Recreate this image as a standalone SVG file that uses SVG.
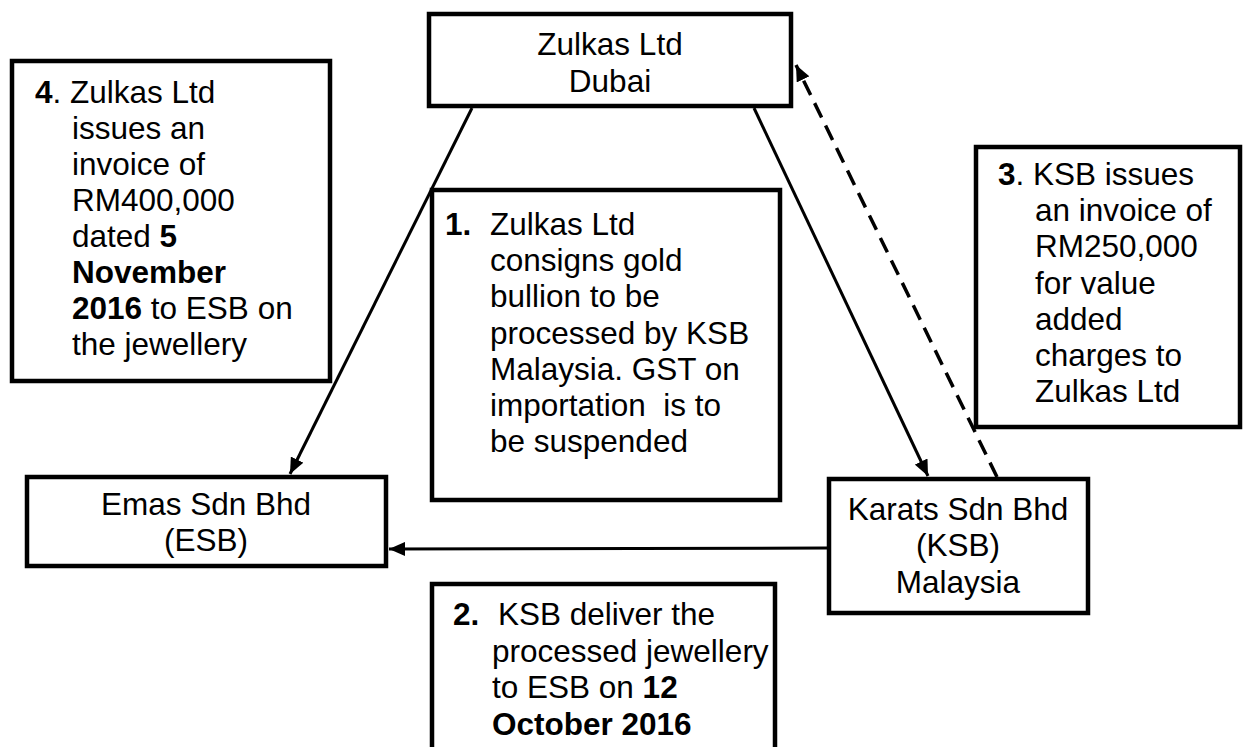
<svg xmlns="http://www.w3.org/2000/svg" width="1244" height="747" viewBox="0 0 1244 747">
<style>
.box{fill:#fff;stroke:#000;stroke-width:4.5}
.t{font-family:"Liberation Sans",Arial,sans-serif;font-size:31.5px;fill:#000}
.c{text-anchor:middle}
.b{font-weight:bold}
.ln{stroke:#000;stroke-width:3;fill:none}
.dash{stroke-width:3.5;stroke-dasharray:16 9}
</style>
<defs>
<marker id="ah" markerUnits="userSpaceOnUse" markerWidth="18" markerHeight="14" refX="16" refY="7" orient="auto">
<path d="M0,0 L16,7 L0,14 z" fill="#000"/>
</marker>
</defs>
<rect width="1244" height="747" fill="#fff"/>
<g id="n-zulkas">
<rect class="box" x="429" y="14" width="362" height="92"/>
<text class="t c" x="610" y="55">Zulkas Ltd</text>
<text class="t c" x="610" y="92">Dubai</text>
</g>
<g id="n-note4">
<rect class="box" x="12" y="61" width="318" height="320"/>
<text class="t" x="35" y="103"><tspan class="b">4</tspan>. Zulkas Ltd</text>
<text class="t" x="72" y="139">issues an</text>
<text class="t" x="72" y="175">invoice of</text>
<text class="t" x="72" y="211">RM400,000</text>
<text class="t" x="72" y="247">dated <tspan class="b">5</tspan></text>
<text class="t b" x="72" y="283">November</text>
<text class="t" x="72" y="319"><tspan class="b">2016</tspan> to ESB on</text>
<text class="t" x="72" y="355">the jewellery</text>
</g>
<g id="n-note1">
<rect class="box" x="432" y="190" width="348" height="310"/>
<text class="t b" x="445" y="235">1.</text>
<text class="t" x="490" y="235">Zulkas Ltd</text>
<text class="t" x="490" y="271">consigns gold</text>
<text class="t" x="490" y="307">bullion to be</text>
<text class="t" x="490" y="344">processed by KSB</text>
<text class="t" x="490" y="380">Malaysia. GST on</text>
<text class="t" x="490" y="416" xml:space="preserve">importation  is to</text>
<text class="t" x="490" y="452">be suspended</text>
</g>
<g id="n-note3">
<rect class="box" x="976" y="147" width="264" height="280"/>
<text class="t" x="998" y="185"><tspan class="b">3</tspan>. KSB issues</text>
<text class="t" x="1035" y="221">an invoice of</text>
<text class="t" x="1035" y="257">RM250,000</text>
<text class="t" x="1035" y="294">for value</text>
<text class="t" x="1035" y="330">added</text>
<text class="t" x="1035" y="366">charges to</text>
<text class="t" x="1035" y="402">Zulkas Ltd</text>
</g>
<g id="n-emas">
<rect class="box" x="27" y="477" width="359" height="89"/>
<text class="t c" x="206" y="515">Emas Sdn Bhd</text>
<text class="t c" x="206" y="551">(ESB)</text>
</g>
<g id="n-karats">
<rect class="box" x="829" y="479" width="259" height="134"/>
<text class="t c" x="958" y="520">Karats Sdn Bhd</text>
<text class="t c" x="958" y="556">(KSB)</text>
<text class="t c" x="958" y="593">Malaysia</text>
</g>
<g id="n-note2">
<rect class="box" x="432" y="584" width="343" height="180"/>
<text class="t b" x="453" y="625">2.</text>
<text class="t" x="498" y="625">KSB deliver the</text>
<text class="t" x="492" y="662">processed jewellery</text>
<text class="t" x="492" y="698">to ESB on <tspan class="b">12</tspan></text>
<text class="t b" x="492" y="735">October 2016</text>
</g>
<g id="connectors">
<line class="ln" x1="472" y1="108" x2="290" y2="474" marker-end="url(#ah)"/>
<line class="ln" x1="754" y1="108" x2="928" y2="476" marker-end="url(#ah)"/>
<line class="ln dash" x1="997" y1="477" x2="796" y2="65" marker-end="url(#ah)"/>
<line class="ln" x1="827" y1="548" x2="389" y2="549" marker-end="url(#ah)"/>
</g>
</svg>
